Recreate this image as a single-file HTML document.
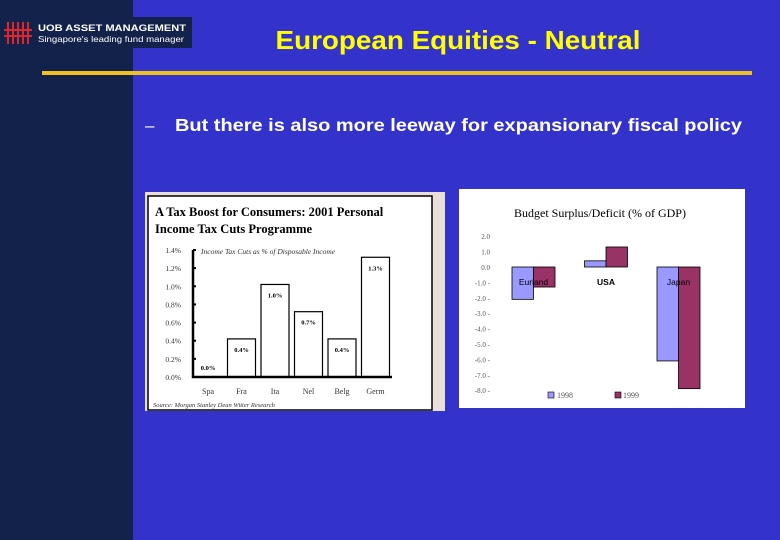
<!DOCTYPE html>
<html><head><meta charset="utf-8"><style>
html,body{margin:0;padding:0;background:#3333cc;}
svg{display:block;font-family:"Liberation Sans",sans-serif;}
</style></head><body>
<svg id="s" width="780" height="540" viewBox="0 0 780 540" xmlns="http://www.w3.org/2000/svg">
<rect x="0" y="0" width="780" height="540" fill="#3333cc"/>
<rect x="0" y="0" width="133" height="540" fill="#13224a"/>
<g>
<rect x="0" y="17" width="192" height="31" fill="#13224a"/>
<g stroke="#e0262a" stroke-width="2">
<line x1="8" y1="22" x2="8" y2="44"/><line x1="13" y1="22" x2="13" y2="44"/><line x1="18" y1="22" x2="18" y2="44"/><line x1="23" y1="22" x2="23" y2="44"/><line x1="28" y1="22" x2="28" y2="44"/>
<line x1="4" y1="30" x2="32" y2="30"/><line x1="4" y1="36" x2="32" y2="36"/>
</g>
<text x="38" y="31" fill="#fff" font-size="9.5" font-weight="bold" textLength="148" lengthAdjust="spacingAndGlyphs">UOB ASSET MANAGEMENT</text>
<text x="38" y="42" fill="#fff" font-size="8.5" textLength="146" lengthAdjust="spacingAndGlyphs">Singapore's leading fund manager</text>
</g>
<text x="458" y="49" text-anchor="middle" fill="#ffff00" font-size="26" font-weight="bold" textLength="365" lengthAdjust="spacingAndGlyphs">European Equities - Neutral</text>
<rect x="42" y="71" width="710" height="4" fill="#f0c020"/>
<text x="145" y="131" fill="#fff" font-size="17">–</text>
<text x="175" y="131" fill="#fff" font-size="17.5" font-weight="bold" textLength="567" lengthAdjust="spacingAndGlyphs">But there is also more leeway for expansionary fiscal policy</text>

<g id="c1">
<rect x="145" y="192" width="300" height="219" fill="#e8e0d8"/>
<rect x="148" y="196" width="284" height="214" fill="#fff" stroke="#000" stroke-width="1.5"/>
<text x="155" y="216" font-family="Liberation Serif,serif" font-size="12.5" font-weight="bold">A Tax Boost for Consumers: 2001 Personal</text>
<text x="155" y="233" font-family="Liberation Serif,serif" font-size="12.5" font-weight="bold">Income Tax Cuts Programme</text>
<text x="201" y="254" font-family="Liberation Serif,serif" font-size="7.5" font-style="italic" fill="#333">Income Tax Cuts as % of Disposable Income</text>
<text x="153" y="407" font-family="Liberation Serif,serif" font-size="6.5" font-style="italic" fill="#333">Source: Morgan Stanley Dean Witter Research</text>
</g>
<g id="c2">
<rect x="459" y="189" width="286" height="219" fill="#fff"/>
<text x="600" y="217" text-anchor="middle" font-family="Liberation Serif,serif" font-size="12">Budget Surplus/Deficit (% of GDP)</text>
</g>
</svg>
<script>
const taxCats=["Spa","Fra","Ita","Nel","Belg","Germ"];
const taxVals=[0.0,0.42,1.02,0.72,0.42,1.32];
const taxLabels=["0.0%","0.4%","1.0%","0.7%","0.4%","1.3%"];
const taxTicks=[0,0.2,0.4,0.6,0.8,1.0,1.2,1.4];

const budCats=["Eurland","USA","Japan"];
const bud1998=[-2.1,0.4,-6.1];
const bud1999=[-1.3,1.3,-7.9];
const budTicks=[2,1,0,-1,-2,-3,-4,-5,-6,-7,-8];

const NS="http://www.w3.org/2000/svg";
function mk(parent,tag,attrs,txt){const e=document.createElementNS(NS,tag);for(const k in attrs)e.setAttribute(k,attrs[k]);if(txt!==undefined)e.textContent=txt;parent.appendChild(e);return e;}

// chart 1
const c1=document.getElementById('c1');
const y1=v=>377-v*(127/1.4);
const bx=i=>193+i*33.5;
taxTicks.forEach(t=>{
 const e=mk(c1,'text',{x:181,y:y1(t)+3,'text-anchor':'end','font-family':'Liberation Serif,serif','font-size':'7.5',fill:'#333'},t.toFixed(1)+'%');
 
 
 const tk=mk(c1,'line',{x1:193,x2:196,y1:y1(t),y2:y1(t),stroke:'#000','stroke-width':2});
 
 
});
taxVals.forEach((v,i)=>{
 const x=bx(i);
 if(v>0){
  const r=mk(c1,'rect',{x:x+1,y:y1(v),width:28,height:377-y1(v),fill:'#fff',stroke:'#000','stroke-width':1.2});
  
  
 }
 const lab=mk(c1,'text',{x:x+15,y:v>0.2?y1(v)+13:y1(v)-7,'text-anchor':'middle','font-family':'Liberation Serif,serif','font-size':'6.5','font-weight':'bold'},taxLabels[i]);
 
 
 const c=mk(c1,'text',{x:x+15,y:394,'text-anchor':'middle','font-family':'Liberation Serif,serif','font-size':'8',fill:'#333'},taxCats[i]);
 
 
});
const ax=mk(c1,'path',{d:'M193 250 V377 H392',fill:'none',stroke:'#000','stroke-width':2.5});



// chart 2
const c2=document.getElementById('c2');
const y2=v=>267-v*15.4;
const gx=i=>512+i*72.5;
budTicks.forEach(t=>{
 const e=mk(c2,'text',{x:490,y:y2(t)+3,'text-anchor':'end','font-family':'Liberation Serif,serif','font-size':'7',fill:'#555'},t.toFixed(1)+(t<=-1?' -':''));
 
 
});
budCats.forEach((c,i)=>{
 const x=gx(i);
 const v1=bud1998[i],v2=bud1999[i];
 const r1=mk(c2,'rect',{x:x,y:Math.min(y2(0),y2(v1)),width:21.5,height:Math.abs(y2(v1)-y2(0)),fill:'#9999ff',stroke:'#000','stroke-width':0.8});
 
 
 const r2=mk(c2,'rect',{x:x+21.5,y:Math.min(y2(0),y2(v2)),width:21.5,height:Math.abs(y2(v2)-y2(0)),fill:'#993366',stroke:'#000','stroke-width':0.8});
 
 
 const l=mk(c2,'text',{x:x+21.5,y:285,'text-anchor':'middle','font-size':'8.5','font-weight':c==='USA'?'bold':'normal'},c);
 
 
});
const lg=mk(c2,'g',{});


mk(lg,'rect',{x:548,y:392,width:6,height:6,fill:'#9999ff',stroke:'#000','stroke-width':0.6});
mk(lg,'text',{x:557,y:398,'font-family':'Liberation Serif,serif','font-size':'8',fill:'#555'},'1998');
mk(lg,'rect',{x:615,y:392,width:6,height:6,fill:'#993366',stroke:'#000','stroke-width':0.6});
mk(lg,'text',{x:623,y:398,'font-family':'Liberation Serif,serif','font-size':'8',fill:'#555'},'1999');
</script>
</body></html>
